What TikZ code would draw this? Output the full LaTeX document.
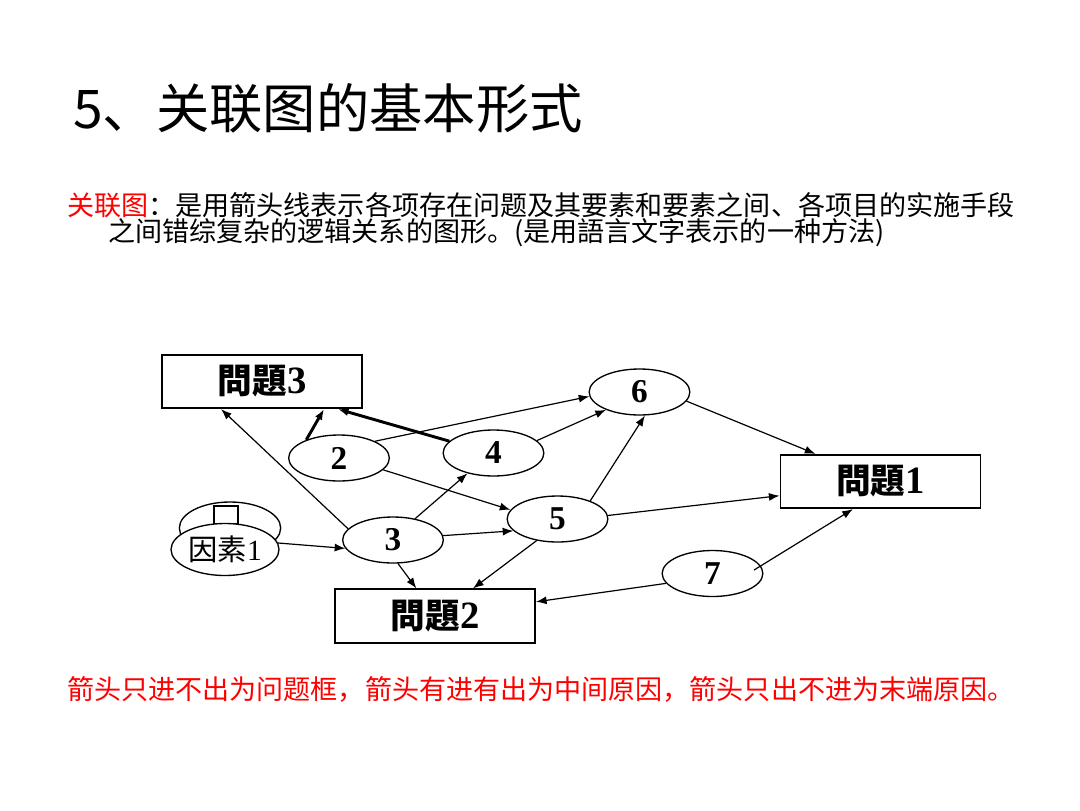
\documentclass[tikz,border=0pt]{standalone}
\usepackage{fontspec}
\setmainfont{Liberation Serif}
\newfontfamily\cjk{Noto Sans CJK SC}
\newfontfamily\cjktc{Noto Sans CJK TC}
\newfontfamily\cjkjp{Noto Sans CJK JP}
\usetikzlibrary{shapes.geometric,arrows.meta}
\newcommand{\problab}[2]{{\cjktc\bfseries #1}{\bfseries\fontsize{29}{29}\selectfont #2}}
\begin{document}
\begin{tikzpicture}[x=0.75pt,y=-0.75pt,
  ell/.style={ellipse,draw,line width=1pt,fill=white,minimum width=75.5pt,minimum height=34.5pt,inner sep=0pt,font=\bfseries\fontsize{25}{25}\selectfont},
  prob/.style={rectangle,draw,line width=1.4pt,fill=white,minimum width=150pt,minimum height=40pt,inner sep=0pt,font=\fontsize{26}{26}\selectfont},
  arr/.style={line width=0.9pt,-{Latex[length=8pt,width=6pt]}},
  tarr/.style={line width=2.2pt,-{Latex[length=8pt,width=6pt]}},
  txt/.style={anchor=west,inner sep=0pt,font=\cjk\fontsize{20.3}{20.3}\selectfont}]
\useasboundingbox (0,0) rectangle (1080,810);

% title and texts
\node[anchor=west,inner sep=0pt,font=\cjk\fontsize{40}{40}\selectfont] (title) at (73,108) {5、关联图的基本形式};
\node[txt] (def1) at (67,205) {\textcolor{red}{关联图}：是用箭头线表示各项存在问题及其要素和要素之间、各项目的实施手段};
\node[txt] (def2) at (108,233) {之间错综复杂的逻辑关系的图形。(是用語言文字表示的一种方法)};
\node[txt,text=red] (note) at (67,689) {箭头只进不出为问题框，箭头有进有出为中间原因，箭头只出不进为末端原因。};

% problem boxes
\node[prob] (p3) at (262,381.5) {\problab{問題}{3}};
\node[prob] (p2) at (435,616) {\problab{問題}{2}};
\node[prob] (p1) at (880.5,481.5) {\problab{問題}{1}};

% cause ellipses
\node[ell] (n6) at (639.5,392) {6};
\node[ell] (n2) at (339,458) {2};
\node[ell] (n4) at (493.5,453) {4};
\node[ell] (n5) at (557.5,519) {5};
\node[ell] (n3) at (393,540) {3};
\node[ell] (n7) at (712.5,573.5) {7};

% factor 1 (stacked)
\node[ell,minimum width=76pt,minimum height=39pt] (f1back) at (230,528) {};
\node[draw,line width=1pt,minimum width=18pt,minimum height=13pt,inner sep=0pt] (f1box) at (226,514.5) {};
\node[ell,minimum width=81pt,minimum height=39pt,font=\fontsize{22}{22}\selectfont] (f1) at (225,549.5) {{\cjkjp 因素}1};

% connectors
\draw[arr] (n3.166) -- (p3.-146);
\draw[tarr] (n2.151) -- (p3.-24);
\draw[tarr] (n4.165) -- (p3.-20);
\draw[arr] (n2.25) -- (n6.185);
\draw[arr] (n2.-15) -- (n5.169);
\draw[arr] (n3.44) -- (n4.-142);
\draw[arr] (n4.16) -- (n6.-152);
\draw[arr] (n5.29) -- (n6.-77);
\draw[arr] (n6.-11) -- (p1.157);
\draw[arr] (n5.4) -- (p1.-172);
\draw[arr,shorten <=-6pt] (n7.9) -- (p1.-135);
\draw[arr] (n7.-168) -- (p2.8);
\draw[arr] (n3.5) -- (n5.-165);
\draw[arr] (f1.7) -- (n3.-170);
\draw[arr] (n3.-78) -- (p2.124);
\draw[arr] (n5.-134) -- (p2.36);
\end{tikzpicture}
\end{document}
